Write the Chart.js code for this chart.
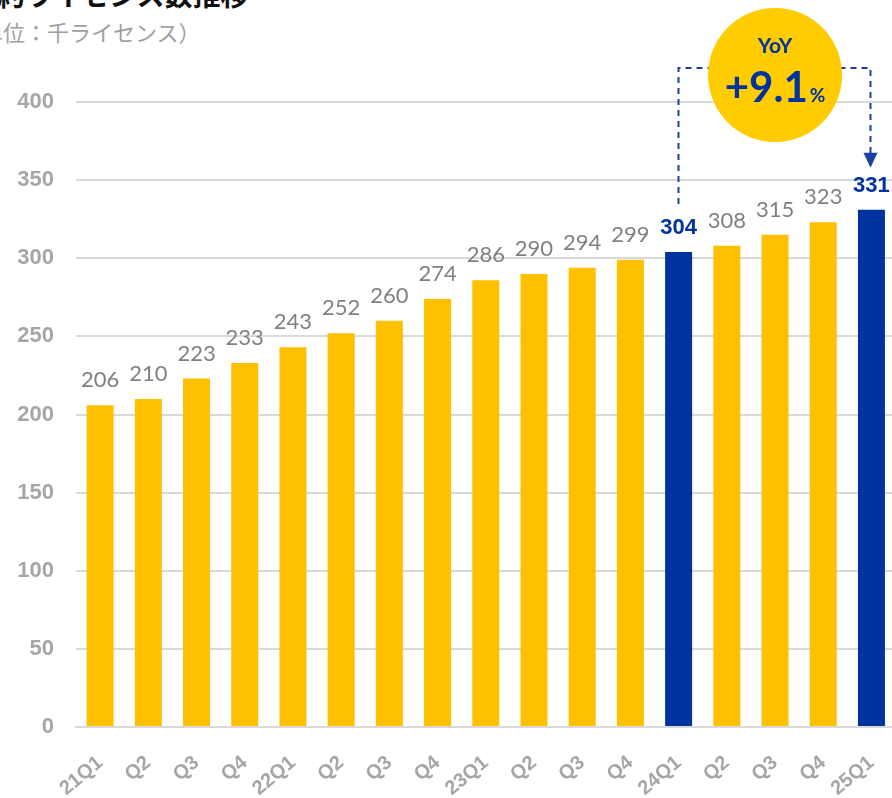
<!DOCTYPE html>
<html>
<head>
<meta charset="utf-8">
<script src="https://cdn.jsdelivr.net/npm/chart.js@4"></script>
<style>
  html, body { margin: 0; padding: 0; background: #fff; overflow: hidden; }
  #wrap { position: relative; width: 892px; height: 798px; overflow: hidden; }
  #chart { position: absolute; left: 0; top: 0; }
  .title { position: absolute; white-space: nowrap; font-family: "Noto Sans CJK JP", sans-serif; }
  #t1 { left: -31px; top: -26px; font-size: 28px; font-weight: bold; color: #111; }
  #t2 { left: -41px; top: 15px; font-size: 22px; color: #a0a0a0; }
</style>
</head>
<body>
<div id="wrap">
  <div class="title" id="t1">契約ライセンス数推移</div>
  <div class="title" id="t2">（単位：千ライセンス）</div>
  <canvas id="chart" width="903" height="798"></canvas>
</div>
<script>
// data
const quarters = ['21Q1', 'Q2', 'Q3', 'Q4', '22Q1', 'Q2', 'Q3', 'Q4', '23Q1', 'Q2', 'Q3', 'Q4', '24Q1', 'Q2', 'Q3', 'Q4', '25Q1'];
const licenses = [206, 210, 223, 233, 243, 252, 260, 274, 286, 290, 294, 299, 304, 308, 315, 323, 331];
const highlighted = [12, 16];   // 24Q1 and 25Q1
const yTicks = [0, 50, 100, 150, 200, 250, 300, 350, 400];
const yoyText = ['YoY', '+9.1', '%'];

const YELLOW = '#FFC000';
const BLUE = '#0033A0';

const barColors = licenses.map((v, i) => highlighted.includes(i) ? BLUE : YELLOW);

// value labels above bars
const valueLabels = {
  id: 'valueLabels',
  afterDatasetsDraw(chart) {
    const ctx = chart.ctx;
    const meta = chart.getDatasetMeta(0);
    ctx.save();
    ctx.textAlign = 'center';
    ctx.textBaseline = 'alphabetic';
    meta.data.forEach((bar, i) => {
      if (highlighted.includes(i)) {
        ctx.font = 'bold 22px "Liberation Sans", Arial, sans-serif';
        ctx.fillStyle = BLUE;
      } else {
        ctx.font = '22px Lato, "Noto Sans", sans-serif';
        ctx.fillStyle = '#808080';
      }
      ctx.fillText(String(licenses[i]), bar.x, bar.y - 18);
    });
    ctx.restore();
  }
};

// YoY bracket + bubble
const yoyBadge = {
  id: 'yoyBadge',
  afterDraw(chart) {
    const ctx = chart.ctx;
    const meta = chart.getDatasetMeta(0);
    const a = meta.data[highlighted[0]];
    const b = meta.data[highlighted[1]];
    const topY = chart.chartArea.top - 34;
    const x1 = Math.round(a.x) - 0.5;
    const x2 = Math.round(b.x) - 0.5;
    const leftBottom = a.y - 48;
    const tipY = b.y - 42;

    ctx.save();
    ctx.strokeStyle = '#1F3FA0';
    ctx.lineWidth = 2;
    ctx.setLineDash([6, 5]);
    ctx.beginPath();
    ctx.moveTo(x1, leftBottom);
    ctx.lineTo(x1, topY);
    ctx.lineTo(x2, topY);
    ctx.lineTo(x2, tipY - 14);
    ctx.stroke();
    ctx.setLineDash([]);
    ctx.fillStyle = '#1F3FA0';
    ctx.beginPath();
    ctx.moveTo(x2 - 7, tipY - 15);
    ctx.lineTo(x2 + 7, tipY - 15);
    ctx.lineTo(x2, tipY);
    ctx.closePath();
    ctx.fill();

    // bubble
    const cx = (a.x + b.x) / 2;
    const cy = topY + 7;
    ctx.fillStyle = '#FFCC00';
    ctx.beginPath();
    ctx.arc(cx, cy, 67, 0, Math.PI * 2);
    ctx.fill();

    ctx.fillStyle = BLUE;
    ctx.textAlign = 'center';
    ctx.textBaseline = 'alphabetic';
    ctx.font = 'bold 21px Lato, "Noto Sans", sans-serif';
    ctx.fillText(yoyText[0], cx, cy - 22);
    ctx.font = 'bold 42px Lato, "Noto Sans", sans-serif';
    const wMain = ctx.measureText(yoyText[1]).width;
    ctx.font = 'bold 19px Lato, "Noto Sans", sans-serif';
    const wPct = ctx.measureText(yoyText[2]).width;
    const startX = cx - (wMain + wPct + 2) / 2;
    ctx.textAlign = 'left';
    ctx.font = 'bold 42px Lato, "Noto Sans", sans-serif';
    ctx.fillText(yoyText[1], startX, cy + 27);
    ctx.font = 'bold 19px Lato, "Noto Sans", sans-serif';
    ctx.fillText(yoyText[2], startX + wMain + 2, cy + 27);
    ctx.restore();
  }
};

const config = {
  type: 'bar',
  data: {
    labels: quarters,
    datasets: [{
      data: licenses,
      backgroundColor: barColors,
      borderWidth: 0,
      barPercentage: 0.56,
      categoryPercentage: 1
    }]
  },
  options: {
    responsive: false,
    animation: false,
    layout: { padding: { top: 102, right: 4, bottom: 0, left: 0 } },
    plugins: {
      legend: { display: false },
      tooltip: { enabled: false }
    },
    scales: {
      x: {
        grid: { display: false },
        border: { display: true, color: '#d9d9d9', width: 2 },
        ticks: {
          color: '#a6a6a6',
          font: { family: '"Liberation Sans", Arial, sans-serif', size: 20, weight: 'bold' },
          minRotation: 40,
          maxRotation: 40,
          autoSkip: false,
          padding: 16
        },
        afterFit(scale) { scale.height = 71; }
      },
      y: {
        min: 0,
        max: 400,
        afterBuildTicks(scale) { scale.ticks = yTicks.map(v => ({ value: v })); },
        grid: { color: '#d9d9d9', lineWidth: 2, drawTicks: false },
        border: { display: false },
        ticks: {
          color: '#a6a6a6',
          font: { family: '"Liberation Sans", Arial, sans-serif', size: 22, weight: 'bold' },
          padding: 22
        },
        afterFit(scale) { scale.width = 76; }
      }
    }
  },
  plugins: [valueLabels, yoyBadge]
};

const myChart = new Chart(document.getElementById('chart'), config);
</script>
</body>
</html>
